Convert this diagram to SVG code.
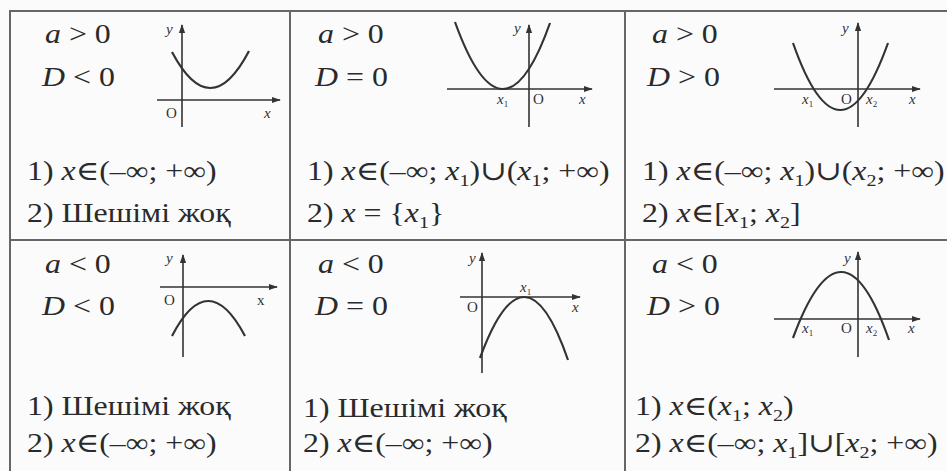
<svg xmlns="http://www.w3.org/2000/svg" width="947" height="471" viewBox="0 0 947 471">
<style>
.t{font-family:"Liberation Serif","DejaVu Serif",serif;font-size:27px;fill:#2a2a2a}
.i{font-style:italic}
.n{font-style:normal}
.s{font-size:17px}
.lb{font-family:"Liberation Serif","DejaVu Serif",serif;font-size:15px;fill:#333}
.grid{stroke:#666;stroke-width:2;fill:none}
.ax{stroke:#333;stroke-width:1.6;fill:none}
.cv{stroke:#333;stroke-width:2.2;fill:none}
</style>
<defs>
<marker id="ar" viewBox="0 0 10 10" refX="9" refY="5" markerWidth="9" markerHeight="9" markerUnits="userSpaceOnUse" orient="auto">
<path d="M0,1.5 L10,5 L0,8.5 Z" fill="#333"/>
</marker>
</defs>
<rect width="947" height="471" fill="#fbfbfb"/>
<g id="table" class="grid">
<path d="M10,471 V11 H947"/>
<path d="M290,11 V471 M625,11 V471 M10,240 H947"/>
</g>
<g id="connectors">
<path class="ax" d="M157,100 H280" marker-end="url(#ar)"/>
<path class="ax" d="M182,127 V25" marker-end="url(#ar)"/>
<path class="ax" d="M447,89 H592" marker-end="url(#ar)"/>
<path class="ax" d="M529,127 V25" marker-end="url(#ar)"/>
<path class="ax" d="M774,89 H920" marker-end="url(#ar)"/>
<path class="ax" d="M858,127 V23" marker-end="url(#ar)"/>
<path class="ax" d="M160,287 H277" marker-end="url(#ar)"/>
<path class="ax" d="M183,357 V255" marker-end="url(#ar)"/>
<path class="ax" d="M460,297 H580" marker-end="url(#ar)"/>
<path class="ax" d="M482,373 V253" marker-end="url(#ar)"/>
<path class="ax" d="M774,319 H920" marker-end="url(#ar)"/>
<path class="ax" d="M858,357 V252" marker-end="url(#ar)"/>
<path class="cv" d="M172,52 Q210.5,124.5 249,51"/>
<path class="cv" d="M455,22 Q503,155.5 550,23"/>
<path class="cv" d="M793,43 Q840,177 888,43"/>
<path class="cv" d="M172,336 Q208,266 245,336"/>
<path class="cv" d="M480,358 Q525,235 568,360"/>
<path class="cv" d="M793,338 Q842,205 889,340"/>
</g>
<g id="cell1">
<text class="t i" transform="translate(45,43) scale(1.18,1)">a<tspan class="n"> &gt; 0</tspan></text>
<text class="t i" transform="translate(42,86) scale(1.18,1)">D<tspan class="n"> &lt; 0</tspan></text>
<text class="lb i" x="166" y="34">y</text>
<text class="lb" x="166" y="118">O</text>
<text class="lb i" x="264" y="118">x</text>
<text class="t" transform="translate(27,180) scale(1.18,1)">1) <tspan class="i">x</tspan>∈(–∞; +∞)</text>
<text class="t" transform="translate(27,222) scale(1.18,1)">2) Шешімі жоқ</text>
</g>
<g id="cell2">
<text class="t i" transform="translate(318,43) scale(1.18,1)">a<tspan class="n"> &gt; 0</tspan></text>
<text class="t i" transform="translate(315,86) scale(1.18,1)">D<tspan class="n"> = 0</tspan></text>
<text class="lb i" x="514" y="33">y</text>
<text class="lb i" x="497" y="104">x<tspan font-size="9" font-style="normal" dy="3">1</tspan></text>
<text class="lb" x="533" y="104">O</text>
<text class="lb i" x="579" y="104">x</text>
<text class="t" transform="translate(307,180) scale(1.18,1)">1) <tspan class="i">x</tspan>∈(–∞; <tspan class="i">x</tspan><tspan class="s" dy="6">1</tspan><tspan dy="-6">)∪(</tspan><tspan class="i">x</tspan><tspan class="s" dy="6">1</tspan><tspan dy="-6">; +∞)</tspan></text>
<text class="t" transform="translate(307,222) scale(1.18,1)">2) <tspan class="i">x</tspan> = {<tspan class="i">x</tspan><tspan class="s" dy="6">1</tspan><tspan dy="-6">}</tspan></text>
</g>
<g id="cell3">
<text class="t i" transform="translate(652,43) scale(1.18,1)">a<tspan class="n"> &gt; 0</tspan></text>
<text class="t i" transform="translate(647,86) scale(1.18,1)">D<tspan class="n"> &gt; 0</tspan></text>
<text class="lb i" x="842" y="33">y</text>
<text class="lb i" x="802" y="104">x<tspan font-size="9" font-style="normal" dy="3">1</tspan></text>
<text class="lb" x="841" y="104">O</text>
<text class="lb i" x="866" y="104">x<tspan font-size="9" font-style="normal" dy="3">2</tspan></text>
<text class="lb i" x="909" y="104">x</text>
<text class="t" transform="translate(642,180) scale(1.18,1)">1) <tspan class="i">x</tspan>∈(–∞; <tspan class="i">x</tspan><tspan class="s" dy="6">1</tspan><tspan dy="-6">)∪(</tspan><tspan class="i">x</tspan><tspan class="s" dy="6">2</tspan><tspan dy="-6">; +∞)</tspan></text>
<text class="t" transform="translate(642,222) scale(1.18,1)">2) <tspan class="i">x</tspan>∈[<tspan class="i">x</tspan><tspan class="s" dy="6">1</tspan><tspan dy="-6">; </tspan><tspan class="i">x</tspan><tspan class="s" dy="6">2</tspan><tspan dy="-6">]</tspan></text>
</g>
<g id="cell4">
<text class="t i" transform="translate(45,273) scale(1.18,1)">a<tspan class="n"> &lt; 0</tspan></text>
<text class="t i" transform="translate(42,315) scale(1.18,1)">D<tspan class="n"> &lt; 0</tspan></text>
<text class="lb i" x="166" y="263">y</text>
<text class="lb" x="164" y="305">O</text>
<text class="lb" x="257" y="305" font-size="12">x</text>
<text class="t" transform="translate(27,415) scale(1.18,1)">1) Шешімі жоқ</text>
<text class="t" transform="translate(27,452) scale(1.18,1)">2) <tspan class="i">x</tspan>∈(–∞; +∞)</text>
</g>
<g id="cell5">
<text class="t i" transform="translate(318,273) scale(1.18,1)">a<tspan class="n"> &lt; 0</tspan></text>
<text class="t i" transform="translate(315,315) scale(1.18,1)">D<tspan class="n"> = 0</tspan></text>
<text class="lb i" x="469" y="263">y</text>
<text class="lb i" x="520" y="292">x<tspan font-size="9" font-style="normal" dy="3">1</tspan></text>
<text class="lb" x="467" y="312">O</text>
<text class="lb i" x="572" y="312" font-size="12">x</text>
<text class="t" transform="translate(303,417) scale(1.18,1)">1) Шешімі жоқ</text>
<text class="t" transform="translate(303,452) scale(1.18,1)">2) <tspan class="i">x</tspan>∈(–∞; +∞)</text>
</g>
<g id="cell6">
<text class="t i" transform="translate(652,273) scale(1.18,1)">a<tspan class="n"> &lt; 0</tspan></text>
<text class="t i" transform="translate(647,315) scale(1.18,1)">D<tspan class="n"> &gt; 0</tspan></text>
<text class="lb i" x="844" y="263">y</text>
<text class="lb i" x="802" y="333">x<tspan font-size="9" font-style="normal" dy="3">1</tspan></text>
<text class="lb" x="841" y="333">O</text>
<text class="lb i" x="866" y="333">x<tspan font-size="9" font-style="normal" dy="3">2</tspan></text>
<text class="lb i" x="908" y="333">x</text>
<text class="t" transform="translate(635,415) scale(1.18,1)">1) <tspan class="i">x</tspan>∈(<tspan class="i">x</tspan><tspan class="s" dy="6">1</tspan><tspan dy="-6">; </tspan><tspan class="i">x</tspan><tspan class="s" dy="6">2</tspan><tspan dy="-6">)</tspan></text>
<text class="t" transform="translate(635,452) scale(1.18,1)">2) <tspan class="i">x</tspan>∈(–∞; <tspan class="i">x</tspan><tspan class="s" dy="6">1</tspan><tspan dy="-6">]∪[</tspan><tspan class="i">x</tspan><tspan class="s" dy="6">2</tspan><tspan dy="-6">; +∞)</tspan></text>
</g>
</svg>
